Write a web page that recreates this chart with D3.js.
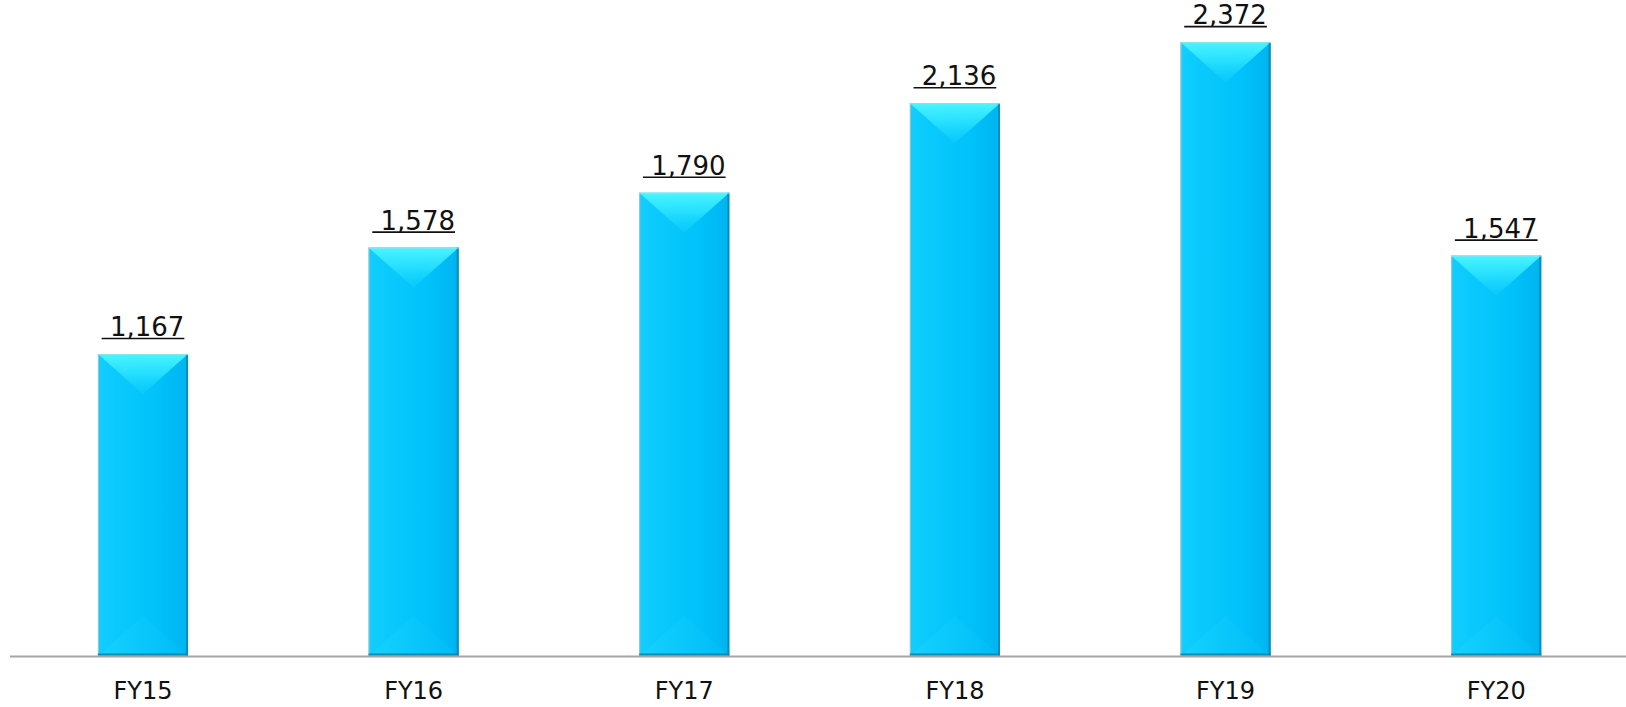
<!DOCTYPE html>
<head>
  <meta charset="utf-8">
  <script src="https://d3js.org/d3.v7.min.js"></script>
  <style>
    body { margin:0; background:#fff; }
    text { font-family: Verdana, "DejaVu Sans", sans-serif; fill: #111; }
    .val { white-space: pre; }
  </style>
</head>
<body>
  <script>
    var width = 1626, height = 707;
    var baseline = 656;

    var years = ["FY15", "FY16", "FY17", "FY18", "FY19", "FY20"];
    var values = [1167, 1578, 1790, 2136, 2372, 1547];
    var valueLabels = ["1,167", "1,578", "1,790", "2,136", "2,372", "1,547"];

    var data = years.map(function(d, i) { return { year: d, value: values[i], label: valueLabels[i] }; });

    var svg = d3.select("body").append("svg")
      .attr("width", width)
      .attr("height", height);

    var defs = svg.append("defs");
    var bodyGrad = defs.append("linearGradient").attr("id", "body").attr("x1", 0).attr("x2", 1).attr("y1", 0).attr("y2", 0);
    bodyGrad.append("stop").attr("offset", "0").attr("stop-color", "#12cefd");
    bodyGrad.append("stop").attr("offset", "0.2").attr("stop-color", "#0acafd");
    bodyGrad.append("stop").attr("offset", "0.7").attr("stop-color", "#00c1f9");
    bodyGrad.append("stop").attr("offset", "1").attr("stop-color", "#00b4f0");
    var topGrad = defs.append("linearGradient").attr("id", "topbev").attr("x1", 0).attr("x2", 0).attr("y1", 0).attr("y2", 1);
    topGrad.append("stop").attr("offset", "0").attr("stop-color", "#48f6ff").attr("stop-opacity", 1);
    topGrad.append("stop").attr("offset", "0.5").attr("stop-color", "#2ee4ff").attr("stop-opacity", 0.8);
    topGrad.append("stop").attr("offset", "1").attr("stop-color", "#14d4ff").attr("stop-opacity", 0.3);
    var botGrad = defs.append("linearGradient").attr("id", "botbev").attr("x1", 0).attr("x2", 1).attr("y1", 0).attr("y2", 0);
    botGrad.append("stop").attr("offset", "0").attr("stop-color", "#18d4ff");
    botGrad.append("stop").attr("offset", "1").attr("stop-color", "#00bcf6");

    var x = d3.scaleBand()
      .domain(years)
      .range([7.8, 1631.4])
      .paddingInner(0.667)
      .paddingOuter(0.333);

    var y = d3.scaleLinear()
      .domain([0, 2500])
      .range([baseline, baseline - 2500 * 0.2588]);

    var bw = x.bandwidth();
    var bev = Math.min(bw / 2, 40);

    var g = svg.selectAll("g.bar")
      .data(data)
      .enter()
      .append("g")
      .attr("class", "bar");

    g.append("rect")
      .attr("x", function(d) { return x(d.year); })
      .attr("y", function(d) { return y(d.value); })
      .attr("width", bw)
      .attr("height", function(d) { return baseline - y(d.value); })
      .attr("fill", "url(#body)");

    // top bevel
    g.append("path")
      .attr("fill", "url(#topbev)")
      .attr("d", function(d) {
        var x0 = x(d.year), y0 = y(d.value);
        return "M" + x0 + "," + y0 + "L" + (x0 + bw) + "," + y0 + "L" + (x0 + bw / 2) + "," + (y0 + bev) + "Z";
      });
    // bottom bevel
    g.append("path")
      .attr("fill", "url(#botbev)")
      .attr("opacity", 0.7)
      .attr("d", function(d) {
        var x0 = x(d.year);
        return "M" + x0 + "," + baseline + "L" + (x0 + bw) + "," + baseline + "L" + (x0 + bw / 2) + "," + (baseline - bev) + "Z";
      });
    // edges
    g.append("line")
      .attr("x1", function(d) { return x(d.year) + 0.5; })
      .attr("x2", function(d) { return x(d.year) + 0.5; })
      .attr("y1", function(d) { return y(d.value); })
      .attr("y2", baseline)
      .attr("stroke", "#9fc3cf").attr("stroke-width", 1);
    g.append("line")
      .attr("x1", function(d) { return x(d.year) + bw - 1; })
      .attr("x2", function(d) { return x(d.year) + bw - 1; })
      .attr("y1", function(d) { return y(d.value); })
      .attr("y2", baseline)
      .attr("stroke", "#0a8db8").attr("stroke-width", 2);
    g.append("line")
      .attr("x1", function(d) { return x(d.year); })
      .attr("x2", function(d) { return x(d.year) + bw; })
      .attr("y1", function(d) { return y(d.value) + 0.5; })
      .attr("y2", function(d) { return y(d.value) + 0.5; })
      .attr("stroke", "#8ae6f0").attr("stroke-width", 1);
    g.append("line")
      .attr("x1", function(d) { return x(d.year); })
      .attr("x2", function(d) { return x(d.year) + bw; })
      .attr("y1", baseline - 1.5)
      .attr("y2", baseline - 1.5)
      .attr("stroke", "#0a8ab4").attr("stroke-width", 2);

    // axis line
    svg.append("line")
      .attr("x1", 10).attr("x2", width)
      .attr("y1", baseline + 0.5).attr("y2", baseline + 0.5)
      .attr("stroke", "#a6a6a6").attr("stroke-width", 2);

    // value labels, underlined with leading space
    var labels = g.append("text")
      .attr("class", "val")
      .attr("x", function(d) { return x(d.year) + bw / 2; })
      .attr("y", function(d) { return y(d.value) - 18; })
      .attr("text-anchor", "middle")
      .style("font-size", "26px")
      .text(function(d) { return " " + d.label; });

    labels.each(function(d) {
      var bb = this.getBBox();
      d3.select(this.parentNode).append("line")
        .attr("x1", bb.x).attr("x2", bb.x + bb.width)
        .attr("y1", y(d.value) - 15.5).attr("y2", y(d.value) - 15.5)
        .attr("stroke", "#111").attr("stroke-width", 1.6);
    });

    // category axis
    svg.append("g")
      .attr("transform", "translate(0," + baseline + ")")
      .call(d3.axisBottom(x).tickSize(0).tickPadding(0))
      .call(function(a) {
        a.select(".domain").remove();
        a.selectAll("text")
          .attr("dy", null)
          .attr("y", 43)
          .attr("fill", "#111")
          .style("font-family", "Verdana, 'DejaVu Sans', sans-serif")
          .style("font-size", "24px");
      });
  </script>
</body>
